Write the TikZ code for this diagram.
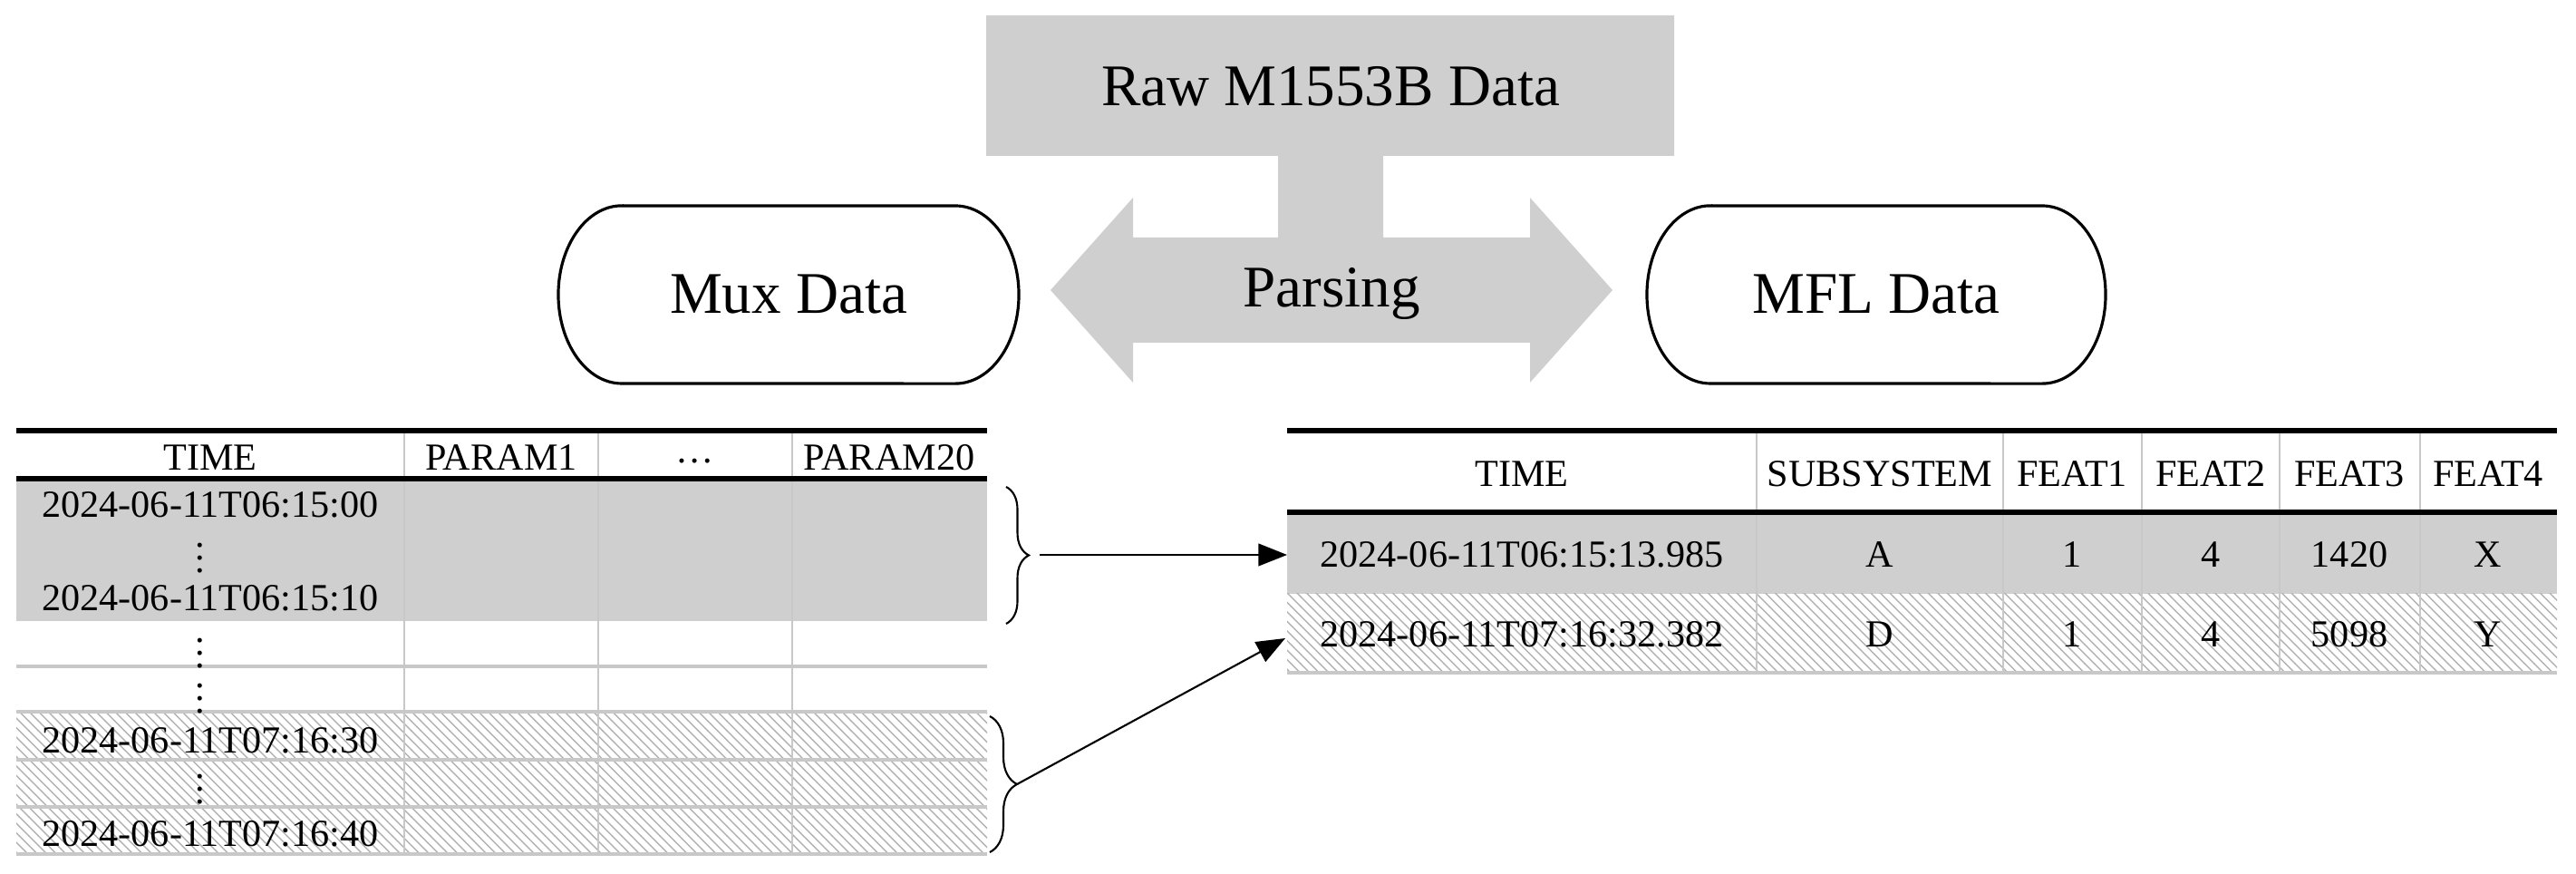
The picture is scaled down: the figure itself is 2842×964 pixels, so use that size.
\documentclass[tikz,border=0pt]{standalone}
\usepackage{fontspec}
\setmainfont{Liberation Serif}
\usetikzlibrary{patterns,arrows.meta,decorations.pathreplacing}
\definecolor{fillg}{HTML}{CFCFCF}
\definecolor{lineg}{HTML}{C8C8C8}
\begin{document}
\begin{tikzpicture}[x=0.01cm,y=0.01cm,
  big/.style={font=\fontsize{18.5pt}{22pt}\selectfont, inner sep=0},
  cell/.style={font=\fontsize{12pt}{14pt}\selectfont, inner sep=0},
  thickrule/.style={line width=1.7pt, black},
  grule/.style={line width=1.4pt, lineg},
  vrule/.style={line width=0.6pt, lineg},
  stad/.style={line width=0.9pt, black},
  hatch/.style={pattern=north west lines, pattern color=gray!60},
  conn/.style={line width=0.6pt, -{Triangle[length=9pt,width=7pt]}},
  br/.style={line width=0.6pt, decorate},
]
\useasboundingbox (0,0) rectangle (2842,964);
% gray parsing shape
\fill[fillg] (1088,947) -- (1847,947) -- (1847,792) -- (1526,792) -- (1526,702)
  -- (1688,702) -- (1688,746) -- (1779,644) -- (1688,542) -- (1688,586)
  -- (1250,586) -- (1250,542) -- (1159,644) -- (1250,746) -- (1250,702)
  -- (1410,702) -- (1410,792) -- (1088,792) -- cycle;
\node[big] (raw) at (1468,869) {Raw M1553B Data};
\node[big] (parsing) at (1469,640) {Parsing};
% stadium boxes
\draw[stad] (686,737) -- (1054,737) arc[start angle=90,end angle=-90,x radius=0.7cm,y radius=0.98cm]
  -- (686,541) arc[start angle=270,end angle=90,x radius=0.7cm,y radius=0.98cm] -- cycle;
\node[big] (mux) at (870,639) {Mux Data};
\draw[stad] (1887,737) -- (2253,737) arc[start angle=90,end angle=-90,x radius=0.7cm,y radius=0.98cm]
  -- (1887,541) arc[start angle=270,end angle=90,x radius=0.7cm,y radius=0.98cm] -- cycle;
\node[big] (mfl) at (2070,639) {MFL Data};
% ---------- left table ----------
\fill[fillg] (18,436) rectangle (1089,279);
\fill[white] (18,179) rectangle (1089,22);
\fill[hatch] (18,179) rectangle (1089,22);
\foreach \x in {446,660,874} \draw[vrule] (\x,489) -- (\x,22);
\foreach \y in {229,126,74,22} \draw[grule] (18,\y) -- (1089,\y);
\draw[grule] (18,179) -- (1089,179);
\draw[thickrule] (18,489) -- (1089,489);
\draw[thickrule] (18,436) -- (1089,436);
\node[cell] (lh1) at (232,459) {TIME};
\node[cell] (lh2) at (553,459) {PARAM1};
\node[cell] (lh3) at (767,455) {\ldots};
\node[cell] (lh4) at (981,459) {PARAM20};
\node[cell] (l1) at (232,407) {2024-06-11T06:15:00};
\node[cell] (ld1) at (221,359) {$\vdots$};
\node[cell] (l2) at (232,304) {2024-06-11T06:15:10};
\node[cell] (ld2) at (221,254) {$\vdots$};
\node[cell] (ld3) at (221,204) {$\vdots$};
\node[cell] (l3) at (232,147) {2024-06-11T07:16:30};
\node[cell] (ld4) at (221,104) {$\vdots$};
\node[cell] (l4) at (232,44) {2024-06-11T07:16:40};
% braces
\draw[br, decoration={brace,amplitude=0.25cm}] (1110,427) -- (1110,276);
\draw[br, decoration={brace,amplitude=0.3cm}] (1092,174) -- (1092,24);
\coordinate (tip1) at (1147,352);
\coordinate (tip2) at (1122,99);
% ---------- right table ----------
\fill[fillg] (1420,399) rectangle (2821,309);
\fill[hatch] (1420,309) rectangle (2821,222);
\foreach \x in {1938,2210,2363,2515,2670} \draw[vrule] (\x,489) -- (\x,222);
\draw[grule] (1420,222) -- (2821,222);
\draw[thickrule] (1420,489) -- (2821,489);
\draw[thickrule] (1420,399) -- (2821,399);
\node[cell] (rh1) at (1679,441) {TIME};
\node[cell] (rh2) at (2074,441) {SUBSYSTEM};
\node[cell] (rh3) at (2286,441) {FEAT1};
\node[cell] (rh4) at (2439,441) {FEAT2};
\node[cell] (rh5) at (2592,441) {FEAT3};
\node[cell] (rh6) at (2745,441) {FEAT4};
\node[cell] (r11) at (1679,352) {2024-06-11T06:15:13.985};
\node[cell] (r12) at (2074,352) {A};
\node[cell] (r13) at (2286,352) {1};
\node[cell] (r14) at (2439,352) {4};
\node[cell] (r15) at (2592,352) {1420};
\node[cell] (r16) at (2745,352) {X};
\node[cell] (r21) at (1679,264) {2024-06-11T07:16:32.382};
\node[cell] (r22) at (2074,264) {D};
\node[cell] (r23) at (2286,264) {1};
\node[cell] (r24) at (2439,264) {4};
\node[cell] (r25) at (2592,264) {5098};
\node[cell] (r26) at (2745,264) {Y};
\coordinate (row1) at (1420,352);
\coordinate (row2) at (1418,260);
\draw[conn] (tip1) -- (row1);
\draw[conn] (tip2) -- (row2);
\end{tikzpicture}
\end{document}
